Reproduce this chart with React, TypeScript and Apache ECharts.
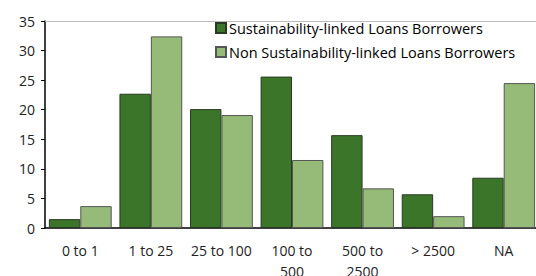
import React, { useEffect, useRef } from "react";
import * as echarts from "echarts";

const categories = ["0 to 1", "1 to 25", "25 to 100", "100 to\n500", "500 to\n2500", "> 2500", "NA"];
const slbValues = [1.5, 22.7, 20.1, 25.6, 15.7, 5.7, 8.5];
const nonSlbValues = [3.7, 32.4, 19.1, 11.5, 6.7, 2.0, 24.5];
const seriesNames = ["Sustainability-linked Loans Borrowers", "Non Sustainability-linked Loans Borrowers"];

const FONT = "'Open Sans', 'Noto Sans', sans-serif";

export default function App() {
  const ref = useRef<HTMLDivElement>(null);
  useEffect(() => {
    if (!ref.current) return;
    const chart = echarts.init(ref.current, undefined, { renderer: "svg" });
    chart.setOption({
      animation: false,
      textStyle: { fontFamily: FONT },
      grid: { left: 45, right: -3, top: 21, bottom: 48, containLabel: false, outerBoundsMode: "none" },
      legend: {
        orient: "vertical",
        left: 210,
        top: 14,
        itemWidth: 10,
        itemHeight: 10,
        itemGap: 6,
        icon: "rect",
        textStyle: { fontSize: 14.5, color: "#000", fontFamily: FONT, padding: [0, 0, 0, -2], lineHeight: 18 },
        data: seriesNames,
      },
      xAxis: [
        {
          type: "category",
          data: categories,
          axisLine: { lineStyle: { color: "#000", width: 1.5 } },
          axisTick: { inside: true, length: 5, lineStyle: { color: "#000" } },
          axisLabel: { interval: 0, color: "#222", fontSize: 14, margin: 12, lineHeight: 21, fontFamily: FONT },
        },
        {
          type: "category",
          position: "top",
          data: categories,
          axisLine: { lineStyle: { color: "#bbb", width: 1 } },
          axisTick: { show: false },
          axisLabel: { show: false },
        },
      ],
      yAxis: {
        type: "value",
        min: 0,
        max: 35,
        interval: 5,
        axisLine: { show: true, lineStyle: { color: "#000", width: 1.5 } },
        axisTick: { show: true, length: 4, lineStyle: { color: "#000" } },
        splitLine: { show: false },
        axisLabel: { color: "#222", fontSize: 14, margin: 10, fontFamily: FONT },
      },
      series: [
        {
          name: seriesNames[0],
          type: "bar",
          data: slbValues,
          barGap: "0%",
          barCategoryGap: "11%",
          itemStyle: { color: "#3A752A", borderColor: "#2a3a22", borderWidth: 1 },
        },
        {
          name: seriesNames[1],
          type: "bar",
          data: nonSlbValues,
          barGap: "0%",
          barCategoryGap: "11%",
          itemStyle: { color: "#96BB78", borderColor: "#555", borderWidth: 1 },
        },
      ],
    });
    return () => chart.dispose();
  }, []);
  return <div ref={ref} style={{ width: 536, height: 276, position: "absolute", left: 0, top: 0 }} />;
}
